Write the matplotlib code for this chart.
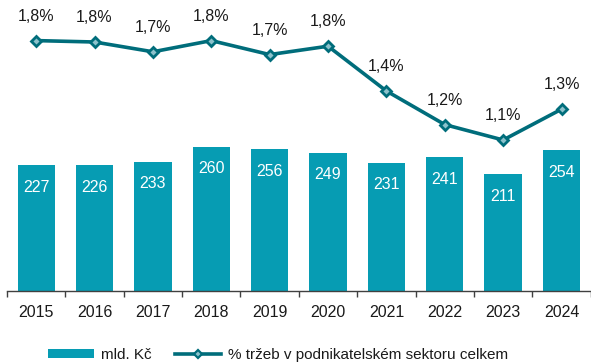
import matplotlib
matplotlib.use("Agg")
import matplotlib.pyplot as plt
from matplotlib.lines import Line2D
from matplotlib.patches import Patch

plt.rcParams['font.family'] = ['Liberation Sans', 'DejaVu Sans']

years = ["2015", "2016", "2017", "2018", "2019", "2020", "2021", "2022", "2023", "2024"]
amount_bn = [227, 226, 233, 260, 256, 249, 231, 241, 211, 254]
share_pct = [1.80, 1.79, 1.72, 1.80, 1.70, 1.76, 1.44, 1.20, 1.09, 1.31]

bar_color = "#069cb3"
line_color = "#006d7b"
marker_face = "#8cc2cc"
text_color = "#1a1a1a"
fs = 11.5

W, H = 591, 363
fig = plt.figure(figsize=(W / 100, H / 100), dpi=100)

ax_left, ax_right = 7, 590.7
ax_base = 290.7
ax = fig.add_axes([ax_left / W, (H - ax_base) / H, (ax_right - ax_left) / W, ax_base / H])

x = list(range(len(years)))
bars = ax.bar(x, amount_bn, width=0.64, color=bar_color, zorder=2)
ax.set_xlim(-0.5, len(years) - 0.5)
ax.set_ylim(0, ax_base / 0.554)

for xi, v in zip(x, amount_bn):
    ax.annotate(f"{v}", (xi, v), xytext=(0, -16), textcoords="offset points",
                ha="center", va="center", color="white", fontsize=fs)

for s in ["top", "right", "left"]:
    ax.spines[s].set_visible(False)
ax.spines["bottom"].set_color("#404040")
ax.spines["bottom"].set_linewidth(1.0)
ax.set_yticks([])
ax.set_xticks(x)
ax.set_xticklabels(years, fontsize=fs, color=text_color)
ax.tick_params(axis="x", which="major", length=0, pad=10)
ax.set_xticks([i - 0.5 for i in range(len(years) + 1)], minor=True)
ax.tick_params(axis="x", which="minor", length=4, width=1.0, color="#404040")

# secondary scale for the percentage line
ax2 = ax.twinx()
ax2.set_ylim(1.09 - (ax_base - 140) / 140, 1.09 + 140 / 140)
ax2.axis("off")
ax2.plot(x, share_pct, color=line_color, lw=2.6, marker="D", ms=5.2,
         mfc=marker_face, mec=line_color, mew=2.0, zorder=3)
for xi, v in zip(x, share_pct):
    ax2.annotate(f"{v:.1f}%".replace(".", ","), (xi, v), xytext=(0, 17.5),
                 textcoords="offset points", ha="center", va="center",
                 color=text_color, fontsize=fs)

handles = [
    Patch(facecolor=bar_color, edgecolor="none", label="mld. Kč"),
    Line2D([0], [0], color=line_color, lw=2.6, marker="D", ms=4.5,
           mfc=marker_face, mec=line_color, mew=1.6,
           label="% tržeb v podnikatelském sektoru celkem"),
]
fig.legend(handles=handles, loc="center", bbox_to_anchor=(278 / W, 1 - 355 / H),
           ncol=2, frameon=False, fontsize=11, handlelength=3.0,
           handleheight=0.45, handletextpad=0.5, columnspacing=1.5,
           labelcolor=text_color, borderpad=0)

fig.savefig("out.png", dpi=100)
